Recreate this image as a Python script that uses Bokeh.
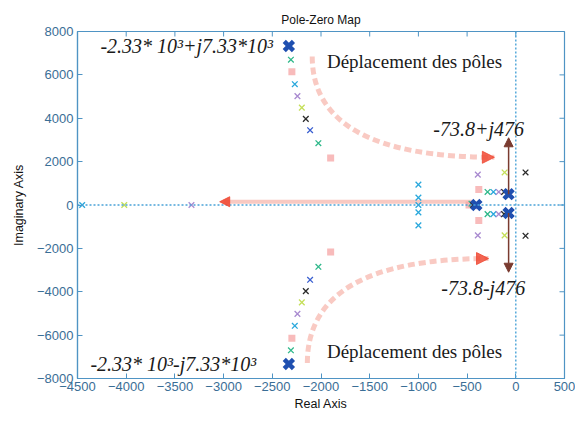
import math
from bokeh.plotting import figure
from bokeh.models import (FixedTicker, Range1d, Arrow, NormalHead,
                          Label, Span, ColumnDataSource)
from bokeh.embed import file_html
from bokeh.resources import INLINE

# ---------------- data ----------------
x_ticks = [-4500, -4000, -3500, -3000, -2500, -2000, -1500, -1000, -500, 0, 500]
y_ticks = [-8000, -6000, -4000, -2000, 0, 2000, 4000, 6000, 8000]

# dominant poles (large blue crosses)
big_re = [-2330, -2330, -405, -74, -74]
big_im = [7330, -7330, 0, 500, -370]

green_re = [-2309, -2309, -2027, -2027, -290, -290, -455]
green_im = [6700, -6700, 2850, -2850, 600, -420, 60]

pink_re = [-2299, -2299, -1901, -1901, -380, -380, -480]
pink_im = [6140, -6140, 2170, -2170, 720, -720, 0]

cyan_re = [-2269, -2269, -1000, -1000, -1000, -1000, -1000, -230, -230, -4452]
cyan_im = [5570, -5570, 940, 340, 0, -340, -940, 600, -420, 0]

purple_re = [-2242, -2242, -390, -390, -175, -175, -3330, -430]
purple_im = [5020, -5020, 1400, -1400, 600, -420, 0, -60]

yellow_re = [-2197, -2197, -115, -115, -4020]
yellow_im = [4490, -4490, 1500, -1400, 0]

black_re = [-2156, -2156, 100, 100, -120, -120, -440]
black_im = [3970, -3970, 1500, -1420, 600, -420, 0]

blue_re = [-2112, -2112]
blue_im = [3450, -3450]

# pole displacement arrows (start, control, end)
curve_x0 = [-2090, -2140]
curve_y0 = [6850, -7280]
curve_cx = [-2090, -2140]
curve_cy = [2200, -2470]
curve_x1 = [-220, -280]
curve_y1 = [2200, -2470]

real_arrow = [-450, -3040, 150]       # x start, x end, y
dom_re = -73.8
dom_arrow_im = [500, 3100, -370, -3100]

labels_txt = ["-2.33* 10³+j7.33*10³", "-2.33* 10³-j7.33*10³",
              "Déplacement des pôles", "Déplacement des pôles",
              "-73.8+j476", "-73.8-j476"]
labels_x = [-4265, -4367, -1939, -1939, -847, -765]
labels_y = [7326, -7326, 6607, -6742, 3520, -3820]
labels_style = ["italic", "italic", "normal", "normal", "italic", "italic"]
labels_size = ["20px", "20px", "19px", "19px", "20px", "20px"]

# ---------------- figure ----------------
AX = "#4f94c4"
TICKC = "#3a6e96"

p = figure(width=575, height=413, output_backend="svg", toolbar_location=None,
           x_range=Range1d(x_ticks[0], x_ticks[-1]),
           y_range=Range1d(y_ticks[0], y_ticks[-1]),
           min_border_left=77, min_border_right=11, min_border_top=31,
           min_border_bottom=32)
p.grid.visible = False
p.outline_line_color = AX
p.outline_line_width = 1.2
p.background_fill_color = "white"
p.border_fill_color = "white"

p.title.text = "Pole-Zero Map"
p.title.align = "center"
p.title.text_font = "Liberation Sans"
p.title.text_font_size = "12px"
p.title.text_font_style = "normal"
p.title.text_color = "#111111"
p.title.standoff = 9

for ax in (p.xaxis[0], p.yaxis[0]):
    ax.axis_line_color = AX
    ax.axis_line_width = 1.2
    ax.major_tick_line_color = AX
    ax.major_tick_in = 5
    ax.major_tick_out = 0
    ax.minor_tick_line_color = None
    ax.major_label_text_font = "Liberation Sans"
    ax.major_label_text_font_size = "13px"
    ax.major_label_text_color = TICKC
    ax.axis_label_text_font = "Liberation Sans"
    ax.axis_label_text_font_size = "12.5px"
    ax.axis_label_text_font_style = "normal"
    ax.axis_label_text_color = "#111111"

p.xaxis[0].ticker = FixedTicker(ticks=x_ticks)
p.yaxis[0].ticker = FixedTicker(ticks=y_ticks)
p.xaxis[0].axis_label = "Real Axis"
p.yaxis[0].axis_label = "Imaginary Axis"
p.xaxis[0].major_label_standoff = 3
p.yaxis[0].major_label_standoff = 4
p.xaxis[0].axis_label_standoff = 3
p.yaxis[0].axis_label_standoff = 8

# inward ticks on the top and right edges of the box
p.ray(x=x_ticks[1:-1], y=[y_ticks[-1]] * (len(x_ticks) - 2), length=5,
      length_units="screen", angle=-math.pi / 2, line_color=AX, line_width=1)
p.ray(x=[x_ticks[-1]] * (len(y_ticks) - 2), y=y_ticks[1:-1], length=5,
      length_units="screen", angle=math.pi, line_color=AX, line_width=1)

# dotted zero lines
p.add_layout(Span(location=0, dimension="width", line_color="#4aa3d8",
                  line_dash="2 2", line_width=1.4))
p.add_layout(Span(location=0, dimension="height", line_color="#4aa3d8",
                  line_dash="2 2", line_width=1.4))

# red displacement arrows
RED = "#f07a68"
p.quadratic(x0=curve_x0, y0=curve_y0, x1=curve_x1, y1=curve_y1,
            cx=curve_cx, cy=curve_cy, line_color=RED, line_width=5,
            line_alpha=0.4, line_dash="7 4")
for i in range(2):
    p.add_layout(Arrow(end=NormalHead(size=12, fill_color="#f04a35", line_color="#f04a35",
                                      fill_alpha=0.85, line_alpha=0.85),
                       x_start=curve_x1[i] - 60, y_start=curve_y1[i],
                       x_end=curve_x1[i], y_end=curve_y1[i],
                       line_color=None))
p.segment(x0=[real_arrow[0]], y0=[real_arrow[2]], x1=[real_arrow[1] + 40],
          y1=[real_arrow[2]], line_color="#f08878", line_width=4, line_alpha=0.45)
p.add_layout(Arrow(end=NormalHead(size=10, fill_color="#f04a35", line_color="#f04a35",
                                  fill_alpha=0.9, line_alpha=0.9),
                   x_start=real_arrow[1] + 60, y_start=real_arrow[2],
                   x_end=real_arrow[1], y_end=real_arrow[2], line_color=None))

# dominant pole brown arrows
BROWN = "#7a3b30"
for i in (0, 2):
    p.add_layout(Arrow(end=NormalHead(size=9, fill_color=BROWN, line_color=BROWN),
                       x_start=dom_re, y_start=dom_arrow_im[i],
                       x_end=dom_re, y_end=dom_arrow_im[i + 1],
                       line_color=BROWN, line_width=1.5))

# poles
series = [
    (pink_re, pink_im, "#f6a4a4", "square", 7, 0),
    (cyan_re, cyan_im, "#2aa8dc", "x", 8, 1.3),
    (green_re, green_im, "#2fb88a", "x", 8, 1.3),
    (purple_re, purple_im, "#a98ad0", "x", 8, 1.3),
    (yellow_re, yellow_im, "#c5df5a", "x", 8, 1.3),
    (black_re, black_im, "#2b2b2b", "x", 8, 1.3),
    (blue_re, blue_im, "#3a5fd0", "x", 8, 1.3),
    (big_re, big_im, "#1f4fb0", "x", 13, 4.5),
]
for xs, ys, col, mk, sz, lw in series:
    src = ColumnDataSource(dict(x=xs, y=ys))
    if mk == "square":
        p.scatter("x", "y", source=src, marker="square", size=sz,
                  fill_color=col, line_color=None, fill_alpha=0.75)
    else:
        p.scatter("x", "y", source=src, marker="x", size=sz,
                  line_color=col, line_width=lw)

# annotations
for t, x, y, st, fs in zip(labels_txt, labels_x, labels_y, labels_style, labels_size):
    p.add_layout(Label(x=x, y=y, text=t, text_font="Liberation Serif",
                       text_font_style=st, text_font_size=fs,
                       text_color="#1a1a1a", text_baseline="middle",
                       text_align="left"))

open("out.html", "w").write(file_html(p, INLINE))
